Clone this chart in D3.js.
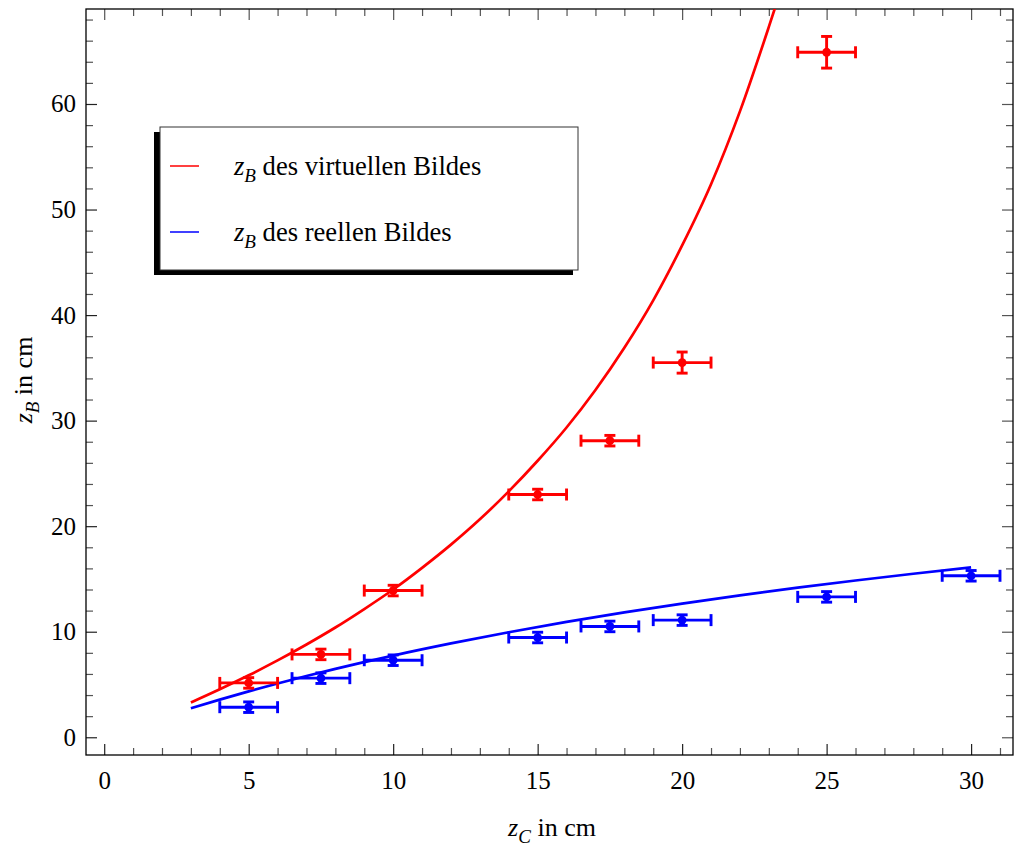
<!DOCTYPE html>
<html>
<head>
<meta charset="utf-8">
<script src="https://cdn.jsdelivr.net/npm/d3@7"></script>
<style>
  body { margin: 0; background: #fff; }
  svg { display: block; font-family: "Liberation Serif", "Times New Roman", serif; }
</style>
</head>
<body>
<div id="chart"></div>
<script>
// measured points: z_C (object distance) with the two image distances
var zC        = [5, 7.5, 10, 15, 17.5, 20, 25];
var zVirtual  = [5.15, 7.85, 13.9, 23.0, 28.1, 35.5, 64.9];
var errVirtual = [0.5, 0.5, 0.5, 0.5, 0.5, 1.0, 1.5];

var zCReal    = [5, 7.5, 10, 15, 17.5, 20, 25, 30];
var zReal     = [2.85, 5.6, 7.3, 9.45, 10.5, 11.1, 13.3, 15.3];
var errReal   = [0.5, 0.5, 0.5, 0.5, 0.5, 0.5, 0.5, 0.5];
var errX      = 1;

// theory curves
var curveVirtualX = [3, 4, 5, 6, 7, 8, 9, 10, 11, 12, 13, 14, 15, 16, 17, 18, 19, 20, 21, 22, 23, 23.5];
var curveVirtualY = [3.3, 4.55, 5.87, 7.28, 8.79, 10.4, 12.15, 14.0, 16.05, 18.25, 20.65, 23.3, 26.2, 29.35, 32.9, 36.9, 41.4, 46.6, 52.4, 59.3, 67.3, 71.5];
var curveRealX = [3, 4, 5, 6, 7, 8, 9, 10, 12, 14, 16, 18, 20, 22, 24, 26, 28, 30];
var curveRealY = [2.75, 3.57, 4.35, 5.09, 5.8, 6.48, 7.12, 7.74, 8.89, 9.95, 10.93, 11.83, 12.67, 13.45, 14.17, 14.85, 15.49, 16.1];

var xMajor = [0, 5, 10, 15, 20, 25, 30];
var yMajor = [0, 10, 20, 30, 40, 50, 60];

var legendLabels = ["des virtuellen Bildes", "des reellen Bildes"];
var legendColors = ["#ff0000", "#0000ff"];

var width = 1014, height = 847;
var pLeft = 86, pRight = 1013, pTop = 9, pBottom = 755;

var svg = d3.select("#chart").append("svg")
	.attr("width", width)
	.attr("height", height);

var x = d3.scaleLinear().domain([-0.63, 31.45]).range([pLeft, pRight]);
var y = d3.scaleLinear().domain([-1.68, 69.0]).range([pBottom, pTop]);

var xMinor = d3.range(0, 32, 1).filter(function(v) { return v % 5 !== 0; });
var yMinor = d3.range(0, 70, 2).filter(function(v) { return v % 10 !== 0; });

svg.append("clipPath").attr("id", "plotclip")
	.append("rect")
	.attr("x", pLeft).attr("y", pTop)
	.attr("width", pRight - pLeft).attr("height", pBottom - pTop);

// ---- axes / frame ----
function styleAxis(g, color) {
	g.select(".domain").remove();
	g.selectAll(".tick line").attr("stroke", color).attr("stroke-width", 1.2);
	g.selectAll(".tick text")
		.attr("fill", "#000")
		.style("font-size", "25px")
		.style("font-family", "'Liberation Serif', serif");
}

svg.append("g").attr("transform", "translate(0," + pBottom + ")")
	.call(d3.axisBottom(x).tickValues(xMajor).tickSize(-11).tickPadding(16))
	.call(styleAxis, "#222");
svg.append("g").attr("transform", "translate(0," + pBottom + ")")
	.call(d3.axisBottom(x).tickValues(xMinor).tickSize(-7).tickFormat(""))
	.call(styleAxis, "#555");
svg.append("g").attr("transform", "translate(0," + pTop + ")")
	.call(d3.axisTop(x).tickValues(xMajor).tickSize(-11).tickFormat(""))
	.call(styleAxis, "#555");
svg.append("g").attr("transform", "translate(0," + pTop + ")")
	.call(d3.axisTop(x).tickValues(xMinor).tickSize(-7).tickFormat(""))
	.call(styleAxis, "#555");

svg.append("g").attr("transform", "translate(" + pLeft + ",0)")
	.call(d3.axisLeft(y).tickValues(yMajor).tickSize(-11).tickPadding(10))
	.call(styleAxis, "#222");
svg.append("g").attr("transform", "translate(" + pLeft + ",0)")
	.call(d3.axisLeft(y).tickValues(yMinor).tickSize(-7).tickFormat(""))
	.call(styleAxis, "#555");
svg.append("g").attr("transform", "translate(" + pRight + ",0)")
	.call(d3.axisRight(y).tickValues(yMajor).tickSize(-11).tickFormat(""))
	.call(styleAxis, "#555");
svg.append("g").attr("transform", "translate(" + pRight + ",0)")
	.call(d3.axisRight(y).tickValues(yMinor).tickSize(-7).tickFormat(""))
	.call(styleAxis, "#555");

svg.append("rect")
	.attr("x", pLeft).attr("y", pTop)
	.attr("width", pRight - pLeft).attr("height", pBottom - pTop)
	.attr("fill", "none").attr("stroke", "#000").attr("stroke-width", 1.3);

// ---- curves ----
var plot = svg.append("g").attr("clip-path", "url(#plotclip)");

var line = d3.line()
	.x(function(d) { return x(d[0]); })
	.y(function(d) { return y(d[1]); })
	.curve(d3.curveMonotoneX);

plot.append("path")
	.datum(d3.zip(curveVirtualX, curveVirtualY))
	.attr("d", line)
	.attr("fill", "none").attr("stroke", "#ff0000").attr("stroke-width", 2.7);
plot.append("path")
	.datum(d3.zip(curveRealX, curveRealY))
	.attr("d", line)
	.attr("fill", "none").attr("stroke", "#0000ff").attr("stroke-width", 2.7);

// ---- error bars ----
function drawPoints(xs, ys, es, color) {
	var data = xs.map(function(v, i) { return {x: v, y: ys[i], e: es[i]}; });
	var g = plot.append("g").attr("stroke", color).attr("fill", color).attr("stroke-width", 2.9);
	var p = g.selectAll("g").data(data).enter().append("g");
	// horizontal bar
	p.append("line")
		.attr("x1", function(d) { return x(d.x - errX); })
		.attr("x2", function(d) { return x(d.x + errX); })
		.attr("y1", function(d) { return y(d.y); })
		.attr("y2", function(d) { return y(d.y); });
	p.append("line")
		.attr("x1", function(d) { return x(d.x - errX); })
		.attr("x2", function(d) { return x(d.x - errX); })
		.attr("y1", function(d) { return y(d.y) - 6; })
		.attr("y2", function(d) { return y(d.y) + 6; });
	p.append("line")
		.attr("x1", function(d) { return x(d.x + errX); })
		.attr("x2", function(d) { return x(d.x + errX); })
		.attr("y1", function(d) { return y(d.y) - 6; })
		.attr("y2", function(d) { return y(d.y) + 6; });
	// vertical bar
	p.append("line")
		.attr("x1", function(d) { return x(d.x); })
		.attr("x2", function(d) { return x(d.x); })
		.attr("y1", function(d) { return y(d.y - d.e); })
		.attr("y2", function(d) { return y(d.y + d.e); });
	p.append("line")
		.attr("x1", function(d) { return x(d.x) - 5.5; })
		.attr("x2", function(d) { return x(d.x) + 5.5; })
		.attr("y1", function(d) { return y(d.y - d.e); })
		.attr("y2", function(d) { return y(d.y - d.e); });
	p.append("line")
		.attr("x1", function(d) { return x(d.x) - 5.5; })
		.attr("x2", function(d) { return x(d.x) + 5.5; })
		.attr("y1", function(d) { return y(d.y + d.e); })
		.attr("y2", function(d) { return y(d.y + d.e); });
	p.append("circle")
		.attr("cx", function(d) { return x(d.x); })
		.attr("cy", function(d) { return y(d.y); })
		.attr("r", 4.4)
		.attr("stroke", "none");
}
drawPoints(zC, zVirtual, errVirtual, "#ff0000");
drawPoints(zCReal, zReal, errReal, "#0000ff");

// ---- axis labels ----
function subLabel(t, sub, rest, size) {
	t.style("font-size", size + "px");
	t.append("tspan").attr("font-style", "italic").text("z");
	t.append("tspan").attr("font-style", "italic").attr("dy", 7).style("font-size", Math.round(size * 0.72) + "px").text(sub);
	t.append("tspan").attr("dy", -7).text(" " + rest);
}

subLabel(svg.append("text")
	.attr("x", 552).attr("y", 836)
	.attr("text-anchor", "middle"), "C", "in cm", 26);

subLabel(svg.append("text")
	.attr("transform", "translate(32,380) rotate(-90)")
	.attr("text-anchor", "middle"), "B", "in cm", 26);

// ---- legend ----
var lg = svg.append("g");
lg.append("rect")
	.attr("x", 154).attr("y", 132).attr("width", 419).attr("height", 143)
	.attr("fill", "#000");
lg.append("rect")
	.attr("x", 160).attr("y", 127).attr("width", 418).attr("height", 143)
	.attr("fill", "#fff").attr("stroke", "#333").attr("stroke-width", 1);

legendLabels.forEach(function(lab, i) {
	var ly = 166 + i * 66;
	lg.append("line")
		.attr("x1", 170).attr("x2", 199)
		.attr("y1", ly).attr("y2", ly)
		.attr("stroke", legendColors[i]).attr("stroke-width", 1.5);
	subLabel(lg.append("text")
		.attr("x", 234).attr("y", ly + 9), "B", lab, 26.6);
});
</script>
</body>
</html>
